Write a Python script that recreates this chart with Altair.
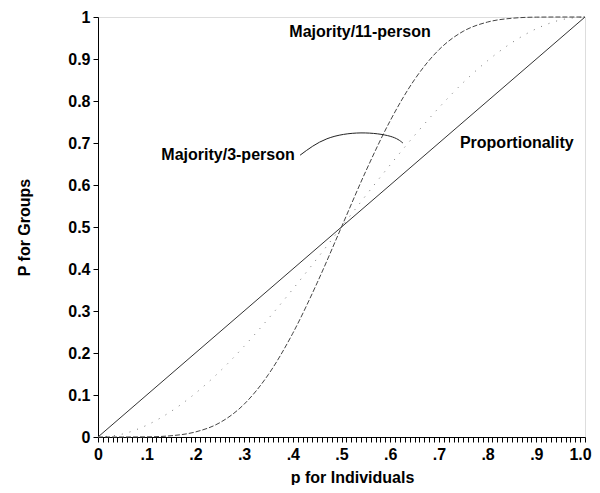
import altair as alt
import pandas as pd

# p for individuals (x) and P for groups (y)
p_vals = [0.0, 0.05, 0.10, 0.15, 0.20, 0.25, 0.30, 0.35, 0.40, 0.45, 0.50,
          0.55, 0.60, 0.65, 0.70, 0.75, 0.80, 0.85, 0.90, 0.95, 1.0]
majority3 = [0.0, 0.007, 0.028, 0.061, 0.104, 0.156, 0.216, 0.282, 0.352, 0.425, 0.50,
             0.575, 0.648, 0.718, 0.784, 0.844, 0.896, 0.939, 0.972, 0.993, 1.0]
majority11 = [0.0, 0.0, 0.0003, 0.003, 0.012, 0.034, 0.078, 0.149, 0.247, 0.367, 0.50,
              0.633, 0.753, 0.851, 0.922, 0.966, 0.988, 0.997, 0.9997, 1.0, 1.0]
prop_p = [0.0, 1.0]
prop_P = [0.0, 1.0]

# annotation arc from "Majority/3-person" label to its curve
arc_p = [0.415, 0.470, 0.540, 0.600, 0.626]
arc_P = [0.671, 0.710, 0.724, 0.716, 0.700]

label_text = ["Majority/11-person", "Majority/3-person", "Proportionality"]
label_p = [0.538, 0.267, 0.860]
label_P = [0.964, 0.671, 0.700]

x_ticks = [i / 100 for i in range(101)]
y_ticks = [i / 10 for i in range(11)]

FONT = "Liberation Sans"

xaxis = alt.Axis(
    values=x_ticks, grid=False, title="p for Individuals",
    labelExpr="round(datum.value*100) % 10 == 0 ? (datum.value == 0 ? '0' : datum.value >= 0.999 ? '1.0' : replace(format(datum.value, '.1f'), '0.', '.')) : ''",
    labelOverlap=False, labelFlush=False, labelPadding=4, tickSize=5,
    labelOffset={"condition": {"test": "datum.value >= 0.999", "value": -5}, "value": 0},
    domainColor="black", tickColor="black", labelColor="black",
    labelFont=FONT, labelFontSize=16, labelFontWeight="bold",
    titleFont=FONT, titleFontSize=16, titleFontWeight="bold", titleColor="black",
    titleX=254, titleY=45, titleBaseline="alphabetic", titleAnchor="middle",
)
yaxis = alt.Axis(
    values=y_ticks, grid=False, title="P for Groups",
    labelExpr="datum.value == 0 ? '0' : datum.value >= 0.999 ? '1' : format(datum.value, '.1f')",
    labelOverlap=False, labelFlush=False, labelPadding=3, tickSize=5,
    domainColor="black", tickColor="black", labelColor="black",
    labelFont=FONT, labelFontSize=16, labelFontWeight="bold",
    titleFont=FONT, titleFontSize=16, titleFontWeight="bold", titleColor="black",
    titleX=-69, titleY=210, titleBaseline="alphabetic", titleAngle=270,
)
xs = alt.Scale(domain=[0, 1], nice=False, zero=False)
ys = alt.Scale(domain=[0, 1], nice=False, zero=False)
X = alt.X("p:Q", scale=xs, axis=xaxis)
Y = alt.Y("P:Q", scale=ys, axis=yaxis)

df3 = pd.DataFrame({"p": p_vals, "P": majority3})
df11 = pd.DataFrame({"p": p_vals, "P": majority11})
dfprop = pd.DataFrame({"p": prop_p, "P": prop_P})
dfarc = pd.DataFrame({"p": arc_p, "P": arc_P})
dflab = pd.DataFrame({"p": label_p, "P": label_P, "t": label_text})

prop = alt.Chart(dfprop).mark_line(color="#333333", strokeWidth=1).encode(x=X, y=Y)
m3 = alt.Chart(df3).mark_line(color="#777777", strokeWidth=1, strokeDash=[1, 7],
                              interpolate="monotone").encode(x=X, y=Y)
m11 = alt.Chart(df11).mark_line(color="#444444", strokeWidth=1, strokeDash=[5, 2],
                                interpolate="monotone").encode(x=X, y=Y)
arc = alt.Chart(dfarc).mark_line(color="#222222", strokeWidth=1,
                                 interpolate="natural").encode(x=X, y=Y)
labels = alt.Chart(dflab).mark_text(font=FONT, fontSize=16, fontWeight="bold",
                                    color="black", align="center", baseline="middle").encode(
    x=X, y=Y, text="t:N")

chart = alt.layer(prop, m3, m11, arc, labels).properties(
    width=487, height=420,
    padding={"left": 90, "top": 9, "right": 7, "bottom": 48},
    autosize=alt.AutoSizeParams(type="none"),
).configure_view(stroke=None).configure(background="white")

chart.save("out.html", embed_options={"renderer": "svg", "actions": False})
